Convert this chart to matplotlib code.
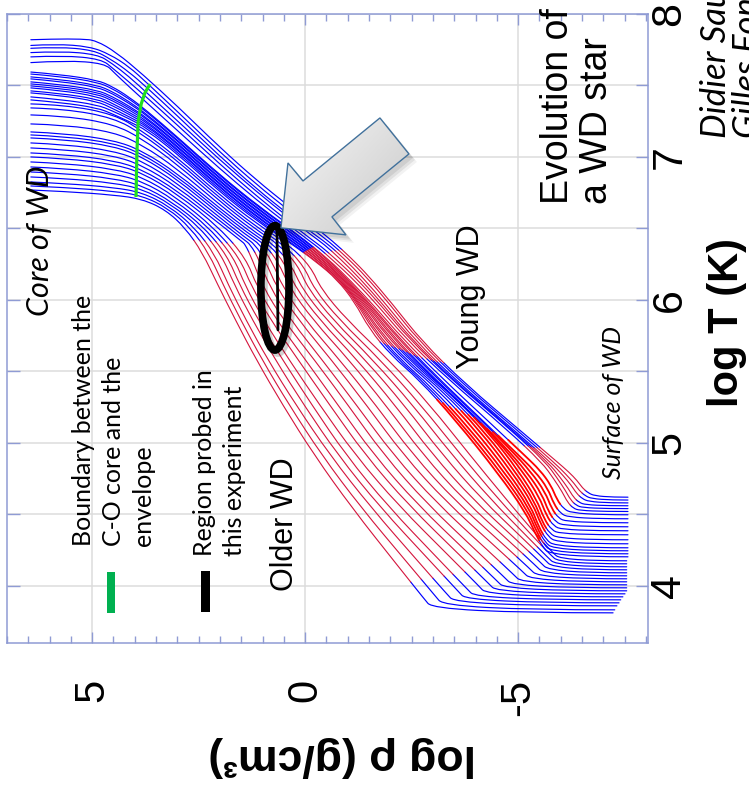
import numpy as np
import matplotlib
matplotlib.use("Agg")
import matplotlib.pyplot as plt
import matplotlib.transforms as mtransforms
from matplotlib.path import Path
from matplotlib.patches import Polygon, Ellipse, Rectangle, PathPatch
from matplotlib.colors import LinearSegmentedColormap

# ---------------------------------------------------------------------------
# White-dwarf cooling sequence: log T vs log rho profiles (hottest first).
# Zone codes per segment: b = conductive/radiative, r = convective,
# R = convective (outer H/He zone of the young models)
# ---------------------------------------------------------------------------
hot_profiles = [
    [(6.44, 7.82), (5.40, 7.83), (4.75, 7.81), (3.50, 7.50), (1.53, 6.93), (-0.02, 6.56), (-0.86, 6.36),
     (-1.71, 6.10), (-3.09, 5.58), (-5.79, 4.90), (-6.33, 4.76), (-6.57, 4.66), (-6.87, 4.62), (-7.58, 4.62)],
    [(6.44, 7.78), (5.29, 7.80), (4.35, 7.69), (3.50, 7.46), (1.53, 6.90), (-0.02, 6.53), (-0.77, 6.36),
     (-1.64, 6.10), (-3.00, 5.59), (-5.72, 4.90), (-6.26, 4.74), (-6.50, 4.64), (-6.80, 4.60), (-7.58, 4.60)],
    [(6.44, 7.76), (5.17, 7.78), (4.35, 7.65), (3.50, 7.43), (1.53, 6.87), (-0.02, 6.50), (-0.68, 6.36),
     (-1.57, 6.09), (-2.93, 5.59), (-5.65, 4.90), (-6.19, 4.73), (-6.43, 4.62), (-6.73, 4.58), (-7.58, 4.58)],
    [(6.44, 7.73), (5.05, 7.75), (4.35, 7.62), (3.50, 7.39), (1.53, 6.85), (-0.02, 6.48), (-0.58, 6.36),
     (-1.52, 6.08), (-2.84, 5.60), (-5.58, 4.91), (-6.12, 4.71), (-6.36, 4.59), (-6.66, 4.56), (-7.58, 4.56)],
    [(6.44, 7.70), (4.93, 7.72), (4.35, 7.58), (3.50, 7.36), (1.53, 6.82), (-0.02, 6.45), (-0.49, 6.35),
     (-1.45, 6.08), (-2.77, 5.61), (-5.51, 4.92), (-6.05, 4.70), (-6.29, 4.57), (-6.59, 4.54), (-7.58, 4.54)],
    [(6.44, 7.66), (4.82, 7.69), (4.35, 7.55), (3.50, 7.32), (1.53, 6.79), (-0.02, 6.43), (-0.39, 6.35),
     (-1.40, 6.07), (-2.67, 5.62), (-5.42, 4.92), (-5.98, 4.69), (-6.22, 4.55), (-6.52, 4.52), (-7.58, 4.52)],
]
hot_zones = "bbbbbbrrbrrbb"

band_profiles = [
    [(6.44, 7.594), (5.05, 7.560), (4.35, 7.469), (3.50, 7.273), (1.53, 6.748), (-0.301, 6.357), (-1.334, 6.056),
     (-2.601, 5.623), (-4.972, 4.965), (-5.700, 4.755), (-5.981, 4.553), (-6.334, 4.497), (-7.58, 4.497)],
    [(6.44, 7.580), (5.05, 7.546), (4.35, 7.455), (3.50, 7.266), (1.53, 6.741), (-0.277, 6.357), (-1.287, 6.056),
     (-2.507, 5.630), (-4.690, 5.007), (-5.629, 4.734), (-5.911, 4.518), (-6.264, 4.469), (-7.58, 4.469)],
    [(6.44, 7.560), (5.05, 7.525), (4.35, 7.434), (3.50, 7.252), (1.53, 6.727), (-0.254, 6.350), (-1.240, 6.063),
     (-2.437, 5.637), (-4.550, 5.042), (-5.559, 4.713), (-5.864, 4.483), (-6.217, 4.441), (-7.58, 4.441)],
    [(6.44, 7.546), (5.05, 7.511), (4.35, 7.420), (3.50, 7.245), (1.53, 6.720), (-0.230, 6.350), (-1.216, 6.063),
     (-2.343, 5.644), (-4.385, 5.077), (-5.488, 4.699), (-5.794, 4.455), (-6.169, 4.413), (-7.58, 4.413)],
    [(6.44, 7.525), (5.05, 7.490), (4.35, 7.399), (3.50, 7.231), (1.53, 6.706), (-0.207, 6.343), (-1.169, 6.070),
     (-2.273, 5.650), (-4.221, 5.126), (-5.418, 4.685), (-5.747, 4.427), (-6.122, 4.385), (-7.58, 4.385)],
    [(6.44, 7.511), (5.05, 7.476), (4.35, 7.385), (3.50, 7.224), (1.53, 6.699), (-0.183, 6.343), (-1.146, 6.070),
     (-2.179, 5.657), (-4.033, 5.182), (-5.348, 4.671), (-5.700, 4.399), (-6.075, 4.357), (-7.58, 4.357)],
    [(6.44, 7.497), (5.05, 7.462), (4.35, 7.371), (3.50, 7.210), (1.53, 6.685), (-0.160, 6.336), (-1.099, 6.077),
     (-2.108, 5.664), (-3.869, 5.210), (-5.301, 4.657), (-5.653, 4.378), (-6.028, 4.322), (-7.58, 4.322)],
    [(6.44, 7.483), (5.05, 7.448), (4.35, 7.350), (3.50, 7.203), (1.53, 6.678), (-0.136, 6.336), (-1.075, 6.077),
     (-2.014, 5.671), (-3.681, 5.245), (-5.254, 4.643), (-5.629, 4.357), (-5.981, 4.294), (-7.58, 4.294)],
    [(6.44, 7.462), (5.05, 7.427), (4.35, 7.336), (3.50, 7.189), (1.53, 6.664), (-0.113, 6.329), (-1.052, 6.077),
     (-1.944, 5.678), (-3.517, 5.266), (-5.207, 4.629), (-5.582, 4.336), (-5.934, 4.266), (-7.58, 4.266)],
    [(6.44, 7.448), (5.05, 7.413), (4.35, 7.315), (3.50, 7.182), (1.53, 6.657), (-0.089, 6.329), (-1.028, 6.084),
     (-1.850, 5.685), (-3.352, 5.287), (-5.160, 4.616), (-5.559, 4.322), (-5.887, 4.245), (-7.58, 4.245)],
    [(6.44, 7.420), (5.05, 7.385), (4.35, 7.301), (3.50, 7.168), (1.53, 6.643), (-0.066, 6.322), (-1.005, 6.084),
     (-1.780, 5.692), (-3.165, 5.322), (-5.113, 4.602), (-5.535, 4.308), (-5.840, 4.224), (-7.58, 4.224)],
    [(6.44, 7.399), (5.05, 7.364), (4.35, 7.280), (3.50, 7.154), (1.53, 6.629), (-0.043, 6.322), (-0.981, 6.084),
     (-1.686, 5.699), (-3.000, 5.357), (-5.066, 4.587), (-5.512, 4.294), (-5.794, 4.203), (-7.58, 4.203)],
]
band_zones = "bbbbbrrbRRbb"

cool_profiles = [
    [(6.44, 7.371), (4.82, 7.357), (3.50, 7.126), (1.53, 6.609), (-0.019, 6.308), (-0.489, 6.00),
     (-2.460, 5.44), (-4.338, 4.74), (-5.747, 4.245), (-6.052, 4.175), (-7.55, 4.175)],
    [(6.44, 7.343), (4.82, 7.329), (3.50, 7.105), (1.53, 6.587), (0.145, 6.315), (-0.324, 6.00),
     (-2.249, 5.44), (-4.127, 4.74), (-5.700, 4.231), (-6.005, 4.154), (-7.55, 4.154)],
    [(6.44, 7.294), (4.82, 7.280), (3.50, 7.077), (1.53, 6.567), (0.286, 6.322), (-0.183, 6.00),
     (-2.061, 5.44), (-3.916, 4.74), (-5.629, 4.217), (-5.934, 4.133), (-7.55, 4.133)],
    [(6.44, 7.231), (4.82, 7.217), (3.50, 7.042), (1.53, 6.546), (0.450, 6.329), (-0.042, 6.00),
     (-1.873, 5.44), (-3.681, 4.74), (-5.559, 4.203), (-5.864, 4.112), (-7.55, 4.112)],
    [(6.44, 7.175), (4.82, 7.154), (3.50, 7.007), (1.53, 6.525), (0.591, 6.336), (0.099, 6.00),
     (-1.662, 5.44), (-3.446, 4.74), (-5.465, 4.182), (-5.770, 4.091), (-7.55, 4.091)],
    [(6.44, 7.154), (4.82, 7.133), (3.50, 6.986), (1.53, 6.504), (0.756, 6.350), (0.239, 6.00),
     (-1.451, 5.44), (-3.212, 4.74), (-5.348, 4.161), (-5.653, 4.070), (-7.55, 4.070)],
    [(6.44, 7.133), (4.82, 7.112), (3.50, 6.965), (1.53, 6.483), (0.897, 6.357), (0.404, 6.00),
     (-1.216, 5.44), (-2.977, 4.74), (-5.207, 4.140), (-5.512, 4.049), (-7.55, 4.049)],
    [(6.44, 7.098), (4.82, 7.077), (3.50, 6.937), (1.53, 6.462), (1.061, 6.364), (0.544, 6.00),
     (-1.005, 5.44), (-2.742, 4.74), (-5.042, 4.119), (-5.348, 4.028), (-7.55, 4.028)],
    [(6.44, 7.063), (4.82, 7.042), (3.50, 6.909), (1.53, 6.441), (1.202, 6.371), (0.709, 6.00),
     (-0.770, 5.44), (-2.507, 4.74), (-4.831, 4.098), (-5.136, 4.007), (-7.55, 4.007)],
    [(6.44, 7.028), (4.82, 7.007), (3.50, 6.881), (1.53, 6.420), (1.366, 6.378), (0.873, 6.00),
     (-0.582, 5.44), (-2.273, 4.74), (-4.620, 4.077), (-4.925, 3.986), (-7.55, 3.986)],
]
cool_zones = "bbbbrrrrbb"

cold_profiles = [
    [(6.44, 7.000), (4.82, 6.979), (3.50, 6.860), (1.507, 6.385), (1.014, 6.00), (-0.348, 5.44),
     (-2.038, 4.74), (-4.432, 4.056), (-4.737, 3.965), (-7.55, 3.965)],
    [(6.44, 6.965), (4.82, 6.944), (3.50, 6.832), (1.671, 6.392), (1.131, 6.00), (-0.160, 5.44),
     (-1.827, 4.74), (-4.244, 4.035), (-4.549, 3.944), (-7.51, 3.944)],
    [(6.44, 6.930), (4.82, 6.909), (3.50, 6.804), (1.812, 6.399), (1.274, 6.00), (0.075, 5.44),
     (-1.592, 4.74), (-4.010, 4.021), (-4.314, 3.923), (-7.46, 3.923)],
    [(6.44, 6.895), (4.82, 6.874), (3.50, 6.776), (1.976, 6.413), (1.389, 6.00), (0.239, 5.44),
     (-1.357, 4.74), (-3.728, 4.000), (-4.056, 3.902), (-7.41, 3.902)],
    [(6.44, 6.860), (4.82, 6.839), (3.50, 6.755), (2.117, 6.420), (1.507, 6.00), (0.427, 5.44),
     (-1.169, 4.74), (-3.517, 3.986), (-3.845, 3.881), (-7.37, 3.881)],
    [(6.44, 6.825), (4.82, 6.804), (3.50, 6.734), (2.281, 6.427), (1.648, 6.00), (0.615, 5.44),
     (-0.982, 4.74), (-3.235, 3.972), (-3.587, 3.860), (-7.32, 3.860)],
    [(6.44, 6.797), (4.82, 6.776), (3.50, 6.713), (2.422, 6.434), (1.765, 6.00), (0.756, 5.44),
     (-0.770, 4.74), (-2.953, 3.965), (-3.329, 3.832), (-7.27, 3.832)],
    [(6.44, 6.769), (4.82, 6.748), (3.50, 6.692), (2.587, 6.441), (1.883, 6.00), (0.897, 5.44),
     (-0.582, 4.74), (-2.695, 3.944), (-3.070, 3.811), (-7.23, 3.811)],
]
cold_zones = "bbbrrrrbb"

# C-O core / envelope boundary across the sequence
core_boundary = [(3.64, 7.51), (3.76, 7.45), (3.85, 7.37), (3.92, 7.25), (3.95, 7.03), (3.97, 6.72)]

# axis ticks
rho_ticks = [5, 0, -5]
rho_ticklabels = ["5", "0", "-5"]
temp_ticks = [4.0, 4.5, 5.0, 5.5, 6.0, 6.5, 7.0, 7.5, 8.0]
temp_ticklabels = ["4", "", "5", "", "6", "", "7", "", "8"]

# ---------------------------------------------------------------------------
W, H = 749, 793
fig = plt.figure(figsize=(W / 100, H / 100), dpi=100)
fig.patch.set_facecolor("white")


def fx(px):
    return px / W


def fy(py):
    return 1 - py / H


frame_col = "#8f9bd4"
grid_col = "#dcdcdc"
arial = "Liberation Sans"
calibri = "Lato"

ax = fig.add_axes([fx(7), fy(643), (648 - 7) / W, (643 - 14) / H])
ax.set_xlim(7.0, -8.05)
ax.set_ylim(3.60, 8.0)

for sp in ax.spines.values():
    sp.set_color(frame_col)
    sp.set_linewidth(1.1)

ax.set_xticks(rho_ticks)
ax.set_xticklabels(rho_ticklabels)
ax.set_xticks(np.arange(-8.0, 7.01, 0.5), minor=True)
ax.set_yticks(temp_ticks)
ax.set_yticklabels(temp_ticklabels)

ax.tick_params(axis="x", which="major", direction="in", top=True, bottom=True,
               length=8, width=1, color=frame_col, labelsize=30, labelrotation=90, pad=26)
ax.tick_params(axis="x", which="minor", direction="in", top=True, bottom=True,
               length=5, width=1, color=frame_col)
ax.tick_params(axis="y", which="major", direction="in", left=True, right=True,
               labelleft=False, labelright=True, length=9, width=1, color=frame_col,
               labelsize=31, labelrotation=90, pad=1)
for t in ax.get_xticklabels() + ax.get_yticklabels(which="both"):
    t.set_fontfamily(arial)
for t in ax.get_yticklabels():
    t.set_verticalalignment("center")

ax.grid(True, axis="x", which="major", color=grid_col, lw=1.1, zorder=0)
ax.grid(True, axis="y", which="major", color=grid_col, lw=1.1, zorder=0)
ax.set_axisbelow(True)

# ---- profiles, drawn as smooth quadratic splines over their vertices ----
styles = {
    "b": dict(color="#0000ff", lw=0.85, z=2),
    "r": dict(color="#d4143c", lw=0.8, z=3),
    "R": dict(color="#ff0000", lw=1.3, z=3),
}


def segment_curves(pts):
    """Quadratic pieces (start, ctrl, end) covering each polyline segment."""
    v = np.asarray(pts, dtype=float)
    n = len(v)
    halves_l, halves_r = {}, {}
    for i in range(1, n - 1):
        p0 = v[0] if i == 1 else (v[i - 1] + v[i]) / 2
        p2 = v[-1] if i == n - 2 else (v[i] + v[i + 1]) / 2
        c = v[i]
        m = (p0 + 2 * c + p2) / 4
        halves_l[i] = (p0, (p0 + c) / 2, m)
        halves_r[i] = (m, (c + p2) / 2, p2)
    segs = []
    for j in range(n - 1):
        parts = []
        if j >= 1:
            parts.append(halves_r[j])
        if j + 1 <= n - 2:
            parts.append(halves_l[j + 1])
        segs.append(parts)
    return segs


for profiles, zones in [(cold_profiles, cold_zones), (cool_profiles, cool_zones),
                        (band_profiles, band_zones), (hot_profiles, hot_zones)]:
    for prof in profiles:
        segs = segment_curves(prof)
        start = 0
        for i in range(1, len(zones) + 1):
            if i == len(zones) or zones[i] != zones[start]:
                verts, codes = [], []
                for parts in segs[start:i]:
                    for (p0, c, p2) in parts:
                        if not verts:
                            verts.append(p0)
                            codes.append(Path.MOVETO)
                        verts += [c, p2]
                        codes += [Path.CURVE3, Path.CURVE3]
                st = styles[zones[start]]
                ax.add_patch(PathPatch(Path(verts, codes), fill=False, edgecolor=st["color"],
                                       lw=st["lw"], zorder=st["z"], capstyle="round"))
                start = i

bx, by = zip(*core_boundary)
ax.plot(bx, by, color="#1fe01f", lw=2.3, zorder=4, solid_capstyle="butt")

# ---- probed region ----
shadow = mtransforms.offset_copy(ax.transData, fig=fig, x=3, y=-3, units="dots")
ax.add_patch(Ellipse((0.709, 6.084), width=0.66, height=0.87, fill=False, lw=5.5,
                     edgecolor="#000000", alpha=0.18, transform=shadow, zorder=5))
ax.add_patch(Ellipse((0.709, 6.084), width=0.66, height=0.87, fill=False, lw=5.5,
                     edgecolor="black", zorder=5))
ax.plot([0.662, 0.638], [6.51, 5.79], color="black", lw=2.0, zorder=5, solid_capstyle="round")

# ---- arrow ----
arrow_pts = [(0.568, 6.504), (0.403, 6.958), (0.051, 6.832), (-1.756, 7.273),
             (-2.437, 7.021), (-0.629, 6.581), (-0.958, 6.455)]
for off, a in [(8, 0.05), (6, 0.07), (4, 0.08)]:
    tr = mtransforms.offset_copy(ax.transData, fig=fig, x=off, y=-off, units="dots")
    ax.add_patch(Polygon(arrow_pts, closed=True, facecolor="black", edgecolor="none",
                         alpha=a, transform=tr, zorder=6))
arrow_outline = Polygon(arrow_pts, closed=True, facecolor="none", edgecolor="#41719c",
                        lw=1.0, zorder=8)
clip_poly = Polygon(arrow_pts, closed=True, transform=ax.transData)
gx, gy = np.meshgrid(np.linspace(0, 1, 120), np.linspace(0, 1, 120))
shade = 0.55 * gx + 0.45 * (1 - gy)
grey_map = LinearSegmentedColormap.from_list("arrowgrey", ["#f8f8f8", "#c8c8c8"])
img = ax.imshow(shade, extent=(0.6, -2.45, 6.44, 7.28), origin="lower", cmap=grey_map,
                aspect="auto", zorder=7, interpolation="bilinear")
img.set_clip_path(clip_poly)
ax.add_patch(arrow_outline)
ax.set_xlim(7.0, -8.05)
ax.set_ylim(3.60, 8.0)

# ---- legend marks ----
ax.add_patch(Rectangle((4.46, 3.811), 0.19, 0.287, facecolor="#00b050", edgecolor="none", zorder=4))
ax.add_patch(Rectangle((2.23, 3.818), 0.22, 0.287, facecolor="black", edgecolor="none", zorder=4))

# ---- annotations ----
fig.text(fx(40), fy(316), "Core of WD", rotation=90, ha="center", va="bottom",
         fontsize=22, family=calibri, style="italic")
fig.text(fx(72), fy(546), "Boundary between the\nC-O core and the\nenvelope", rotation=90,
         ha="left", va="bottom", fontsize=18, family=calibri, linespacing=1.36, multialignment="left")
fig.text(fx(193), fy(556), "Region probed in\nthis experiment", rotation=90,
         ha="left", va="bottom", fontsize=18, family=calibri, linespacing=1.36, multialignment="left")
fig.text(fx(285), fy(591), "Older WD", rotation=90, ha="center", va="bottom",
         fontsize=22, family=arial)
fig.text(fx(471), fy(369), "Young WD", rotation=90, ha="center", va="bottom",
         fontsize=22, family=arial)
fig.text(fx(613), fy(479), "Surface of WD", rotation=90, ha="center", va="bottom",
         fontsize=18, family=calibri, style="italic")
fig.text(fx(540), fy(204), "Evolution of\na WD star", rotation=90, ha="left", va="bottom",
         fontsize=27, family=arial, linespacing=1.1, multialignment="left")
fig.text(fx(700), fy(138), "Didier Saumon\nGilles Fontaine", rotation=90, ha="left", va="bottom",
         fontsize=25, family=calibri, style="italic", linespacing=1.0, multialignment="left")

fig.text(fx(727), fy(323), "log T (K)", rotation=90, ha="center", va="center",
         fontsize=30, family=arial, weight="bold")
fig.text(fx(342), fy(757), "log ρ (g/cm³)", rotation=180, ha="center", va="center",
         fontsize=32, family=arial, weight="bold")

fig.savefig("out.png", dpi=100)
